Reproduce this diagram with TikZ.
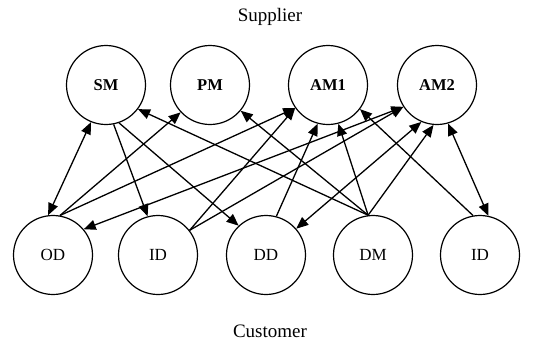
\documentclass[tikz,border=0pt]{standalone}
\usepackage{fontspec}
\setmainfont{Liberation Serif}
\usetikzlibrary{arrows.meta}
\begin{document}
\begin{tikzpicture}[x=1pt,y=-1pt,
  agent/.style={circle,draw,line width=1.2pt,minimum size=79pt,inner sep=0pt,font=\fontsize{17}{20}\selectfont},
  topagent/.style={agent,font=\fontsize{16.5}{20}\selectfont\bfseries},
  title/.style={font=\fontsize{19}{22}\selectfont},
  link/.style={line width=1.3pt},
  tip/.style={-{Triangle[length=12pt,width=10pt]}},
  both/.style={{Triangle[length=12pt,width=10pt]}-{Triangle[length=12pt,width=10pt]}}]
\useasboundingbox (0,0) rectangle (539,341);
\node[title] (sup) at (270,17) {Supplier};
\node[title] (cus) at (270,331) {Customer};
\node[topagent] (sm)  at (106,85) {SM};
\node[topagent] (pm)  at (210,85) {PM};
\node[topagent] (am1) at (328,85) {AM1};
\node[topagent] (am2) at (437,85) {AM2};
\node[agent] (od)  at (53,255) {OD};
\node[agent] (id1) at (158,255) {ID};
\node[agent] (dd)  at (266,255) {DD};
\node[agent] (dm)  at (373,255) {DM};
\node[agent] (id2) at (480,255) {ID};
% SM
\draw[link,both] (sm.248) -- (od.97);
\draw[link,tip] (sm.281) -- (id1.105);
\draw[link,tip] (sm.289) -- (dd.133);
% OD
\draw[link,tip] (od.80) -- (pm.223);
\draw[link,tip] (od.80) -- (am1.215);
\draw[link,both] (am2.213) -- (od.40);
% ID1
\draw[link,tip] (id1.38) -- (am1.215);
\draw[link,tip] (id1.38) -- (am2.213);
% DD
\draw[link,tip] (dd.75) -- (am1.255);
\draw[link,both] (dd.41) -- (am2.247);
% DM
\draw[link,tip] (dm.97) -- (sm.323);
\draw[link,tip] (dm.97) -- (pm.320);
\draw[link,tip] (dm.97) -- (am1.285);
\draw[link,tip] (dm.97) -- (am2.265);
% ID2
\draw[link,tip] (id2.100) -- (am1.323);
\draw[link,both] (am2.286) -- (id2.78);
\end{tikzpicture}
\end{document}
